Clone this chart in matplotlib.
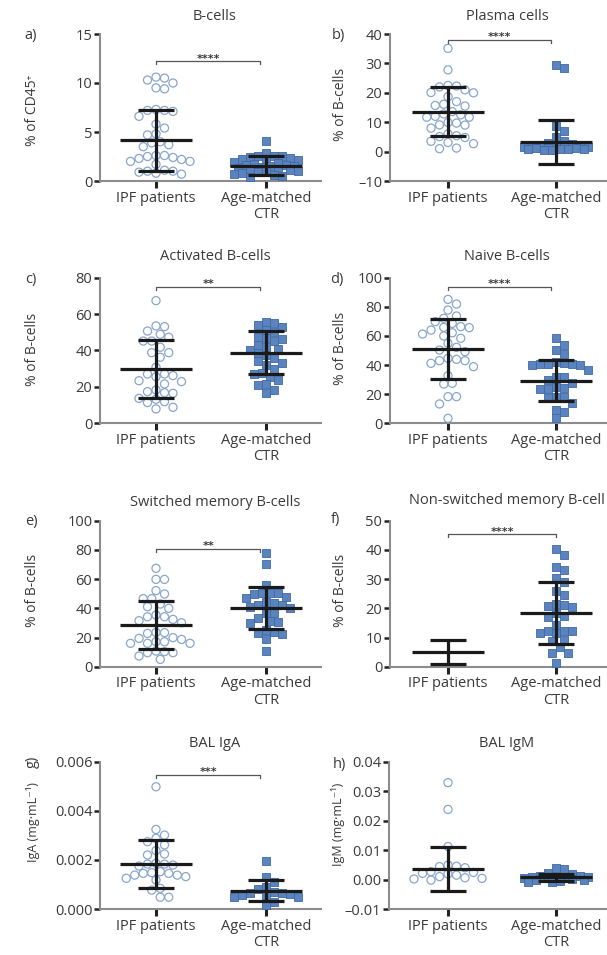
import numpy as np
import matplotlib
matplotlib.use("Agg")
import matplotlib.pyplot as plt

plt.rcParams['font.family'] = ['Open Sans', 'DejaVu Sans']

# ---------------- data ----------------
groups = ["IPF patients", "Age-matched\nCTR"]

titles = ["B-cells", "Plasma cells", "Activated B-cells", "Naive B-cells",
          "Switched memory B-cells", "Non-switched memory B-cell", "BAL IgA", "BAL IgM"]
panel_letters = ["a)", "b)", "c)", "d)", "e)", "f)", "g)", "h)"]
ylabels = ["% of CD45\u207a", "% of B-cells", "% of B-cells", "% of B-cells",
           "% of B-cells", "% of B-cells", "IgA (mg\u00b7mL\u207b\u00b9)", "IgM (mg\u00b7mL\u207b\u00b9)"]

ipf_a = [10.6, 10.5, 10.3, 10.0, 9.5, 9.4, 7.3, 7.2, 7.2, 7.1, 6.6, 5.8, 5.4, 4.8, 4.7, 4.0, 3.9,
         3.7, 3.5, 2.6, 2.6, 2.5, 2.4, 2.3, 2.2, 2.0, 2.0, 1.7, 1.1, 1.0, 1.0, 0.9, 0.8, 0.7]
ctr_a = [4.1, 2.9, 2.6, 2.5, 2.5, 2.4, 2.3, 2.2, 2.1, 2.0, 1.9, 1.8, 1.7, 1.6, 1.6, 1.5, 1.5,
         1.4, 1.3, 1.2, 1.2, 1.1, 1.0, 1.0, 0.9, 0.8, 0.7, 0.6, 0.5, 0.4]

ipf_b = [35.1, 27.8, 22.5, 22.3, 22.0, 21.0, 20.1, 20.0, 18.7, 17.0, 16.1, 15.7, 15.5, 13.6, 12.8,
         12.5, 12.0, 11.7, 11.7, 9.9, 9.7, 9.1, 9.0, 8.0, 6.0, 5.4, 5.1, 4.8, 3.5, 3.1, 2.7, 1.2, 1.0]
ctr_b = [29.5, 28.3, 8.8, 7.1, 5.1, 3.5, 3.0, 2.6, 2.2, 2.0, 1.9, 1.7, 1.6, 1.5, 1.4, 1.3, 1.2,
         1.1, 1.0, 1.0, 0.9, 0.8, 0.7, 0.6]

ipf_c = [67.4, 53.5, 53.1, 50.7, 48.9, 47.3, 45.2, 45.2, 41.8, 38.8, 38.8, 36.3, 30.8, 27.1, 27.1,
         26.2, 25.6, 23.4, 22.9, 21.6, 18.3, 17.4, 16.8, 16.5, 13.7, 13.2, 11.9, 11.4, 8.8, 7.9]
ctr_c = [55.9, 55.3, 54.0, 53.0, 51.3, 50.0, 47.5, 46.7, 46.2, 45.0, 43.0, 42.0, 41.0, 40.0, 38.5,
         37.5, 36.0, 34.0, 33.3, 32.0, 30.0, 27.8, 27.0, 25.6, 24.0, 21.6, 21.0, 18.3, 16.8]

ipf_d = [85.1, 81.9, 77.8, 73.7, 72.1, 69.8, 68.6, 66.4, 65.9, 65.7, 64.0, 62.2, 61.3, 60.0, 58.4,
         54.9, 52.2, 50.3, 49.2, 44.6, 43.9, 43.0, 43.0, 41.2, 38.9, 32.7, 27.5, 27.0, 18.3, 18.3,
         13.3, 3.4]
ctr_d = [58.4, 53.8, 50.3, 47.6, 41.9, 41.2, 40.7, 40.7, 40.5, 40.0, 40.0, 36.6, 32.0, 32.0, 29.7,
         27.5, 25.2, 24.0, 23.3, 23.3, 18.3, 18.3, 17.2, 14.2, 9.2, 8.0, 3.4]

ipf_e = [67.4, 59.8, 59.8, 52.1, 49.8, 46.6, 46.6, 42.9, 41.1, 40.0, 35.4, 34.2, 34.2, 32.4, 31.5,
         30.1, 23.5, 23.3, 22.8, 19.9, 19.4, 18.7, 17.1, 17.1, 16.0, 16.0, 16.0, 10.7, 10.3, 9.6,
         9.6, 7.3, 5.0]
ctr_e = [78.0, 70.3, 56.0, 50.7, 50.7, 50.2, 49.8, 47.5, 46.8, 44.5, 43.4, 42.2, 42.2, 41.1, 40.0,
         36.5, 36.5, 33.1, 31.5, 30.8, 29.7, 25.1, 24.0, 23.3, 22.4, 18.7, 10.7]

ipf_f = []
ctr_f = [40.3, 38.3, 34.2, 33.1, 30.3, 29.0, 26.0, 24.6, 21.5, 21.1, 20.8, 20.5, 18.5, 17.4, 17.1,
         14.2, 12.3, 12.1, 12.1, 11.4, 11.4, 9.1, 8.9, 6.6, 4.6, 4.6, 1.4]

ipf_g = [0.00498, 0.00324, 0.00301, 0.00288, 0.00274, 0.00261, 0.00238, 0.00224, 0.00220, 0.00186,
         0.00183, 0.00183, 0.00179, 0.00175, 0.00152, 0.00148, 0.00145, 0.00145, 0.00138, 0.00138,
         0.00132, 0.00125, 0.00118, 0.00084, 0.00077, 0.00048, 0.00048]
ctr_g = [0.00197, 0.00132, 0.00111, 0.00091, 0.00080, 0.00070, 0.00067, 0.00064, 0.00060, 0.00057,
         0.00055, 0.00050, 0.00048, 0.00030, 0.00016]

ipf_h = [0.0329, 0.0238, 0.0112, 0.0049, 0.0045, 0.0044, 0.0040, 0.0027, 0.0024, 0.0021, 0.0019,
         0.0015, 0.0010, 0.0006, 0.0004, 0.0002, -0.0002]
ctr_h = [0.0038, 0.0035, 0.0021, 0.0019, 0.0013, 0.0012, 0.0010, 0.0009, 0.0008, 0.0006, 0.0005,
         0.0004, 0.0002, 0.0000, -0.0003, -0.0006, -0.0008, -0.0010]

ipf_values = [ipf_a, ipf_b, ipf_c, ipf_d, ipf_e, ipf_f, ipf_g, ipf_h]
ctr_values = [ctr_a, ctr_b, ctr_c, ctr_d, ctr_e, ctr_f, ctr_g, ctr_h]

# mean and SD as shown by the error bars
ipf_mean = [4.15, 13.6, 29.8, 50.8, 28.5, 5.1, 0.00184, 0.0036]
ipf_sd = [3.1, 8.4, 16.0, 20.6, 16.4, 4.1, 0.00097, 0.0074]
ctr_mean = [1.57, 3.3, 38.8, 29.3, 40.2, 18.3, 0.00074, 0.0007]
ctr_sd = [0.93, 7.5, 11.8, 14.0, 14.7, 10.6, 0.00043, 0.0011]

significance = ["****", "****", "**", "****", "**", "****", "***", ""]
bracket_y = [12.2, 38.0, 75.0, 93.4, 80.6, 45.3, 0.00546, None]

yticks = [[0, 5, 10, 15], [-10, 0, 10, 20, 30, 40], [0, 20, 40, 60, 80],
          [0, 20, 40, 60, 80, 100], [0, 20, 40, 60, 80, 100], [0, 10, 20, 30, 40, 50],
          [0.0, 0.002, 0.004, 0.006], [-0.01, 0.0, 0.01, 0.02, 0.03, 0.04]]
ytick_fmt = ["{:g}", "{:g}", "{:g}", "{:g}", "{:g}", "{:g}", "{:.3f}", "{:.2f}"]

# ---------------- layout (pixels) ----------------
W, H = 607, 955
fig = plt.figure(figsize=(W / 100, H / 100), dpi=100)

boxes = [(100, 321, 34, 181), (390, 607, 34, 181),
         (100, 321, 277.7, 423.3), (390, 607, 277.7, 423.3),
         (100, 321, 520.7, 666.7), (390, 607, 520.7, 666.7),
         (100, 321, 761.7, 909), (389, 607, 761.7, 909)]
tick_px = [(156, 266), (448, 556)]

TXT = "#3a3a3a"
SPINE = "#8c8c8c"
CIRC = "#8aa6cc"
SQF = "#5b84be"
SQE = "#3f69a6"


def swarm_offsets(ax, vals, diam_px, max_px=34.0):
    if len(vals) == 0:
        return np.array([])
    vals = np.asarray(vals, float)
    ypx = ax.transData.transform(np.c_[np.zeros_like(vals), vals])[:, 1]
    x0, x1 = ax.transData.transform([[0, 0], [1, 0]])[:, 0]
    px_per_unit = x1 - x0
    order = np.argsort(-vals)
    placed = []
    offs = np.zeros(len(vals))
    step = diam_px * 0.5
    cands = [0.0]
    k = 1
    while k * step <= max_px:
        cands += [k * step, -k * step]
        k += 1
    for i in order:
        y = ypx[i]
        best, best_d = 0.0, -1.0
        for o in cands:
            if placed:
                dmin = min(np.hypot(o - po, y - py) for po, py in placed)
            else:
                dmin = 1e9
            if dmin >= diam_px:
                best = o
                break
            if dmin > best_d + 1e-6:
                best, best_d = o, dmin
        placed.append((best, y))
        offs[i] = best
    return offs / px_per_unit


for i in range(8):
    l, r, t, b = boxes[i]
    ax = fig.add_axes([l / W, 1 - b / H, (r - l) / W, (b - t) / H])
    tp = tick_px[i % 2]
    upx = tp[1] - tp[0]
    ax.set_xlim(-(tp[0] - l) / upx, 1 + (r - tp[1]) / upx)
    yt = yticks[i]
    ax.set_ylim(yt[0], yt[-1])
    ax.set_yticks(yt)
    labs = [ytick_fmt[i].format(v) for v in yt]
    labs = [s.replace("-", "\u2013") for s in labs]
    ax.set_yticklabels(labs)
    ax.set_xticks([0, 1])
    ax.set_xticklabels(groups, linespacing=1.1)
    for s in ("top", "right"):
        ax.spines[s].set_visible(False)
    for s in ("left", "bottom"):
        ax.spines[s].set_color(SPINE)
        ax.spines[s].set_linewidth(1.5)
    ax.tick_params(axis="y", length=4.5, width=1.8, color="#222222", labelsize=10.5,
                   labelcolor=TXT, pad=1.0)
    ax.tick_params(axis="x", length=5, width=2.2, color="#222222", labelsize=10.5,
                   labelcolor=TXT, pad=2)
    ax.patch.set_alpha(0)

    # points
    ipf = ipf_values[i]
    ctr = ctr_values[i]
    if len(ipf):
        off = swarm_offsets(ax, ipf, 8.5)
        ax.scatter(0 + off, ipf, s=34, marker="o", facecolors="none", edgecolors=CIRC,
                   linewidths=0.9, zorder=3, clip_on=False)
    if len(ctr):
        off = swarm_offsets(ax, ctr, 8.0)
        ax.scatter(1 + off, ctr, s=30, marker="s", facecolors=SQF, edgecolors=SQE,
                   linewidths=0.6, zorder=3, clip_on=False)

    # mean +/- SD
    for c, m, sd in ((0, ipf_mean[i], ipf_sd[i]), (1, ctr_mean[i], ctr_sd[i])):
        kw = dict(color="#1a1a1a", lw=2.3, solid_capstyle="butt", zorder=5, clip_on=False)
        ax.plot([c - 0.33, c + 0.33], [m, m], **kw)
        ax.plot([c, c], [m - sd, m + sd], **kw)
        ax.plot([c - 0.165, c + 0.165], [m + sd, m + sd], **kw)
        ax.plot([c - 0.165, c + 0.165], [m - sd, m - sd], **kw)

    # significance bracket
    if bracket_y[i] is not None:
        yb = bracket_y[i]
        yr = yt[-1] - yt[0]
        d = yr * 3.0 / (b - t)
        x2 = 1.0 if i == 5 else 0.95
        ax.plot([0, 0, x2, x2], [yb - d, yb, yb, yb - d], color="#555555", lw=0.9,
                zorder=4, clip_on=False)
        ax.annotate(significance[i], (x2 / 2, yb), xytext=(0, -1.5), textcoords="offset points",
                    ha="center", va="bottom", fontsize=8, color=TXT, family="DejaVu Sans",
                    fontweight="bold", annotation_clip=False)

# titles, panel letters, y labels (pixel positions)
title_pos = [(215, 16), (507, 16), (215, 256), (507, 256), (215, 502), (507, 501), (215, 743), (507, 743)]
letter_pos = [(31, 36), (338, 35), (31, 279), (337, 280), (31, 522), (335, 520), (32, 762), (339, 764)]
letter_rot = [0, 0, 0, 0, 0, 0, 90, 0]
ylab_pos = [(33, 110), (340, 104), (33, 349), (340, 348), (33, 590), (340, 590), (33, 822), (338, 824)]
ylab_size = [10, 10, 10, 10, 10, 10, 9, 9]

for i in range(8):
    x, y = title_pos[i]
    fig.text(x / W, 1 - y / H, titles[i], ha="center", va="center", fontsize=10.5, color=TXT)
    x, y = letter_pos[i]
    fig.text(x / W, 1 - y / H, panel_letters[i], ha="center", va="center", fontsize=10.5,
             color=TXT, rotation=letter_rot[i])
    x, y = ylab_pos[i]
    fig.text(x / W, 1 - y / H, ylabels[i], ha="center", va="center", fontsize=ylab_size[i],
             color=TXT, rotation=90)

fig.savefig("out.png", dpi=100)
